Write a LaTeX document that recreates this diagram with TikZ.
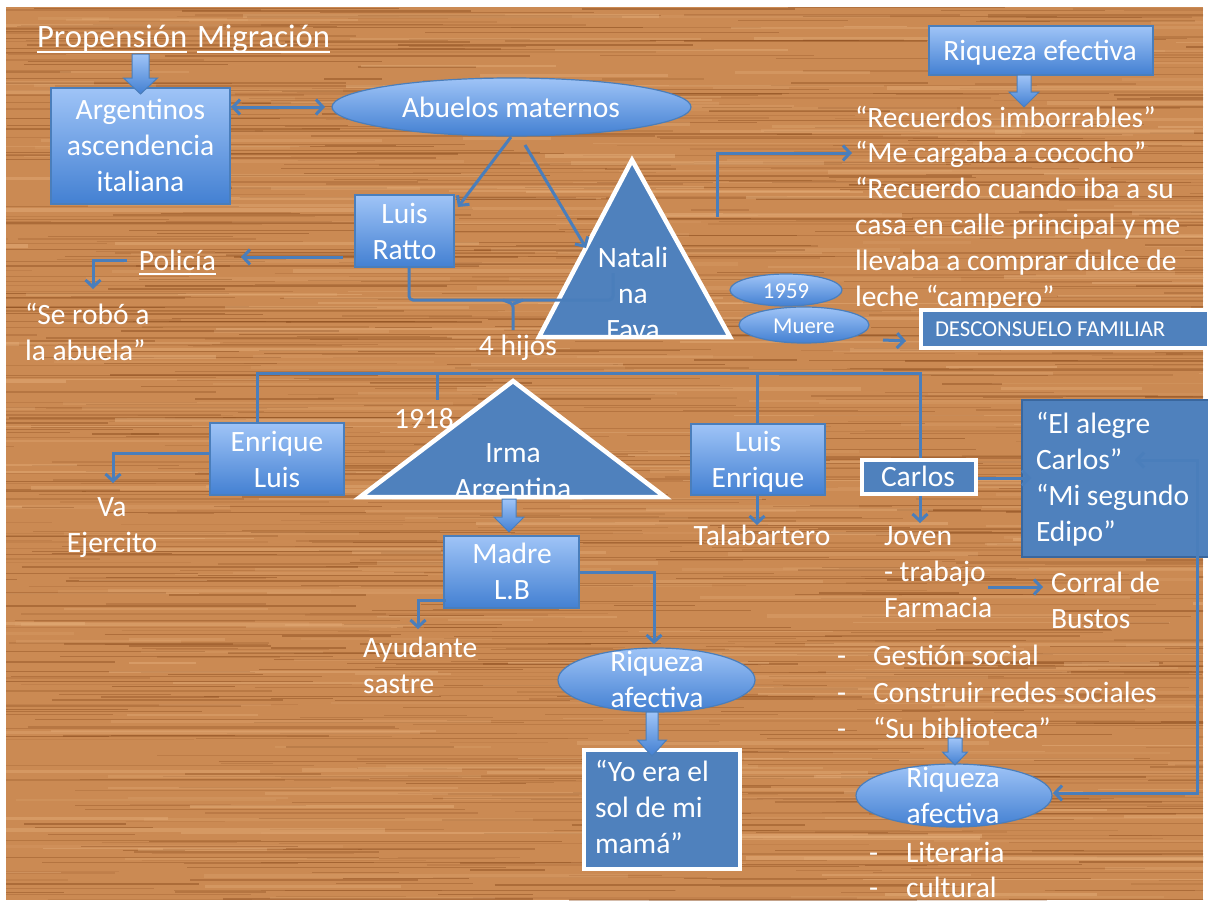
\documentclass[tikz,border=0pt]{standalone}
\usepackage{fontspec}
\setmainfont{Carlito}
\usetikzlibrary{arrows.meta,shapes.geometric,calc}
\definecolor{woodbase}{HTML}{CB8A53}
\definecolor{wooddark}{HTML}{8E4F20}
\definecolor{woodlight}{HTML}{E6B07C}
\definecolor{lineblue}{HTML}{4A7EBB}
\definecolor{gtop}{HTML}{9FC4F7}
\definecolor{gbot}{HTML}{4380D2}
\definecolor{boxline}{HTML}{4A7EBB}
\definecolor{qfill}{HTML}{4F81BD}
\definecolor{qline}{HTML}{3A679E}
\newcommand\fbig{\fontsize{29.5}{35.8}\selectfont}
\newcommand\ftitle{\fontsize{32.7}{39}\selectfont}
\newcommand\fsmall{\fontsize{22.7}{27}\selectfont}
% block arrow pointing down: x, y top, y of head, y tip, half shaft, half head
\newcommand\blockarr[6]{%
  \path[draw=boxline, line width=1pt, top color=gtop, bottom color=gbot]
    (#1-#5,#2) -- (#1+#5,#2) -- (#1+#5,#3) -- (#1+#6,#3) -- (#1,#4)
    -- (#1-#6,#3) -- (#1-#5,#3) -- cycle;}
\begin{document}
\begin{tikzpicture}[x=1pt,y=-1pt,
  tx/.style={text=white, font=\fbig, inner sep=0pt, outer sep=0pt},
  gbox/.style={rectangle, draw=boxline, line width=1.2pt, top color=gtop, bottom color=gbot, inner sep=0pt},
  gell/.style={ellipse, draw=boxline, line width=1.2pt, top color=gtop, bottom color=gbot, inner sep=0pt},
  wbox/.style={rectangle, draw=white, line width=4pt, fill=qfill, inner sep=0pt},
  conn/.style={draw=lineblue, line width=3pt, -{Straight Barb[length=7pt,width=15pt]}},
  conn2/.style={draw=lineblue, line width=3pt, {Straight Barb[length=7pt,width=15pt]}-{Straight Barb[length=7pt,width=15pt]}},
  plainline/.style={draw=lineblue, line width=3pt},
  tri/.style={fill=qfill, draw=white, line width=4.5pt, line join=miter}]
\useasboundingbox (0,0) rectangle (1208,903);

% wood panel with fine horizontal grain
\begin{scope}
  \clip (6,7) rectangle (1203,900);
  \fill[woodbase] (6,7) rectangle (1203,900);
  \pgfmathsetseed{2718}
  \foreach \k in {1,...,1100}{
    \pgfmathsetmacro\yy{7+893*rnd}
    \pgfmathsetmacro\xx{-150+1350*rnd}
    \pgfmathsetmacro\ll{50+380*rnd}
    \pgfmathsetmacro\ww{0.4+1.6*rnd}
    \pgfmathsetmacro\oo{0.12+0.4*rnd}
    \draw[wooddark, line width=\ww, opacity=\oo] (\xx,\yy) -- ++(\ll,0);
  }
  \foreach \k in {1,...,350}{
    \pgfmathsetmacro\yy{7+893*rnd}
    \pgfmathsetmacro\xx{-150+1350*rnd}
    \pgfmathsetmacro\ll{60+420*rnd}
    \pgfmathsetmacro\ww{1+3*rnd}
    \pgfmathsetmacro\oo{0.15+0.35*rnd}
    \draw[woodlight, line width=\ww, opacity=\oo] (\xx,\yy) -- ++(\ll,0);
  }
\end{scope}

% ---------- shapes ----------
\node[gbox, minimum width=179, minimum height=116] (arg) at (140.5,146) {};
\node[gell, minimum width=359, minimum height=58] (abu) at (511.5,107) {};
\node[gbox, minimum width=99, minimum height=72] (ratto) at (404.5,231) {};
\node[gbox, minimum width=224, minimum height=49] (riqtop) at (1041,50.5) {};
\node[gell, minimum width=112, minimum height=32] (e1959) at (786,290) {};
\node[gell, minimum width=130, minimum height=36] (muere) at (804,325) {};
\node[wbox, minimum width=288, minimum height=38] (desc) at (1065,329) {};
\node[gbox, minimum width=134, minimum height=72] (enrl) at (277,459) {};
\node[gbox, minimum width=134, minimum height=71] (luise) at (758,459.5) {};
\node[gbox, minimum width=135, minimum height=72] (madre) at (511.5,572) {};
\node[gell, minimum width=197, minimum height=64] (riqmid) at (656.5,680) {};
\node[wbox, minimum width=156, minimum height=119] (sol) at (662,809.5) {};
\node[wbox, minimum width=114, minimum height=34] (carlos) at (919,477) {};
\node[rectangle, draw=qline, line width=1.5pt, fill=qfill, minimum width=188, minimum height=157] (alegre) at (1116,478.5) {};
\node[gell, minimum width=196, minimum height=63] (riqbot) at (954,795.5) {};

% triangles
\coordinate (na) at (632,160);
\coordinate (nl) at (539,337);
\coordinate (nr) at (730,337);
\coordinate (ia) at (513,381);
\coordinate (il) at (360,497);
\coordinate (ir) at (665,497);
\fill[qfill] (na) -- (nl) -- (nr) -- cycle;
\fill[qfill] (ia) -- (il) -- (ir) -- cycle;
\begin{scope}
  \clip (na) -- (nl) -- (nr) -- cycle;
  \node[tx, align=center, anchor=base] (natal) at (633,339) {Natali\\na\\Fava};
\end{scope}
\begin{scope}
  \clip (ia) -- (il) -- (ir) -- cycle;
  \node[tx, align=center, anchor=base] (irma) at (513,498) {Irma\\Argentina};
\end{scope}
\draw[tri, fill=none] (na) -- (nl) -- (nr) -- cycle;
\draw[tri, fill=none] (ia) -- (il) -- (ir) -- cycle;

% ---------- texts (anchor base = last line) ----------
\node[tx, font=\ftitle, anchor=base west] (tprop) at (37,47) {Propensión};
\node[tx, font=\ftitle, anchor=base west] (tmig) at (197,47) {Migración};
\draw[white, line width=2.5pt] ([yshift=-5pt]tprop.base west) -- ([yshift=-5pt]tprop.base east);
\draw[white, line width=2.5pt] ([yshift=-5pt]tmig.base west) -- ([yshift=-5pt]tmig.base east);

\node[tx, align=center, anchor=base] (targ) at (140.5,191) {Argentinos\\ascendencia\\italiana};
\node[tx, anchor=base] (tabu) at (511,117) {Abuelos maternos};
\node[tx, align=center, anchor=base] (tratto) at (404.5,259) {Luis\\Ratto};
\node[tx, anchor=base] (tpol) at (177.5,270) {Policía};
\draw[white, line width=2.5pt] ([yshift=-4pt]tpol.base west) -- ([yshift=-4pt]tpol.base east);
\node[tx, align=left, anchor=base west] (trobo) at (25,360) {“Se robó a\\la abuela”};
\node[tx, anchor=base] (thijos) at (518,355) {4 hijos};
\node[tx, anchor=base] (t1918) at (424,428) {1918};
\node[tx, anchor=base] (triqtop) at (1040,60) {Riqueza efectiva};
\node[tx, align=left, anchor=base west] (trec) at (855,306)
  {“Recuerdos imborrables”\\“Me cargaba a cococho”\\“Recuerdo cuando iba a su\\casa en calle principal y me\\llevaba a comprar dulce de\\leche “campero”};
\node[tx, font=\fsmall, anchor=base] (t1959) at (786,298) {1959};
\node[tx, font=\fsmall, anchor=base] (tmuere) at (804,333) {Muere};
\node[tx, font=\fsmall, anchor=base west] (tdesc) at (935,336) {DESCONSUELO FAMILIAR};
\node[tx, align=center, anchor=base] (tenrl) at (277,487) {Enrique\\Luis};
\node[tx, align=center, anchor=base] (tva) at (112,552) {Va\\Ejercito};
\node[tx, align=center, anchor=base] (tluise) at (758,487) {Luis\\Enrique};
\node[tx, anchor=base] (ttala) at (762,545) {Talabartero};
\node[tx, align=center, anchor=base] (tmadre) at (512,599) {Madre\\L.B};
\node[tx, align=left, anchor=base west] (tayu) at (363,693) {Ayudante\\sastre};
\node[tx, align=center, anchor=base] (triqmid) at (657,707) {Riqueza\\afectiva};
\node[tx, align=left, anchor=base west] (tsol) at (595,853) {“Yo era el\\sol de mi\\mamá”};
\node[tx, anchor=base] (tcarlos) at (918,486) {Carlos};
\node[tx, align=left, anchor=base west] (talegre) at (1036,541) {“El alegre\\Carlos”\\“Mi segundo\\Edipo”};
\node[tx, align=left, anchor=base west] (tjoven) at (884,617) {Joven\\- trabajo\\Farmacia};
\node[tx, align=left, anchor=base west] (tcorral) at (1051,628) {Corral de\\Bustos};
\foreach \t [count=\i] in {Gestión social, Construir redes sociales, “Su biblioteca”}{
  \node[tx, anchor=base west] (dsh\i) at (837,629+36.5*\i) {-};
  \node[tx, anchor=base west] (itm\i) at (873,629+36.5*\i) {\t};
}
\node[tx, align=center, anchor=base] (triqbot) at (953,823) {Riqueza\\afectiva};
\foreach \t [count=\i] in {Literaria, cultural}{
  \node[tx, anchor=base west] (ldsh\i) at (869,827+35*\i) {-};
  \node[tx, anchor=base west] (litm\i) at (906,827+35*\i) {\t};
}

% ---------- connectors ----------
\blockarr{140.5}{54}{78}{94}{8.5}{17}
\draw[conn2] (231,107) -- (325,107);
\draw[conn] (511,137) -- (458,207);
\draw[conn] (525,145) -- (586,248);
\draw[plainline, rounded corners=4pt] (409,267) -- (409,300) -- (613,300) -- (613,273);
\draw[plainline, rounded corners=3pt] (503,300) -- (513,304) -- (513,330);
\draw[plainline, rounded corners=3pt] (523,300) -- (513,304);
\coordinate (rpol) at (343,257);
\draw[conn] (rpol) -- (241,257);
\coordinate (pol2) at (127,260);
\draw[conn] (pol2) -| (93,289);

\blockarr{1024}{75}{92}{107}{7}{15}
\coordinate (elb) at (717,217);
\draw[conn] (elb) |- (852,153);
\coordinate (mu2) at (883,340);
\draw[conn] (mu2) -- (906,341);

% family line
\draw[plainline] (257,423) -- (257,373) -- (920,373) -- (920,458);
\draw[plainline] (437,373) -- (437,400);
\draw[plainline] (757,373) -- (757,424);

\coordinate (el1) at (210,453);
\draw[conn] (el1) -| (113,483);
\draw[conn] (757,495) -- (757,525);
\blockarr{509}{499}{517}{532}{7}{15}
\coordinate (ma1) at (446,600);
\draw[conn] (ma1) -| (418,629);
\coordinate (ma2) at (579,572);
\draw[conn] (ma2) -| (654,644);
\blockarr{652}{712}{740}{756}{6}{14.5}

\draw[conn] (920,496) -- (920,523);
\draw[conn] (978,478) -- (1031,478);
\draw[conn2] (1135,460) -- (1197,460) -- (1197,793) -- (1053,793);
\draw[conn] (988,587) -- (1043,587);
\blockarr{955}{738}{752}{765}{7}{12.5}
\end{tikzpicture}
\end{document}
